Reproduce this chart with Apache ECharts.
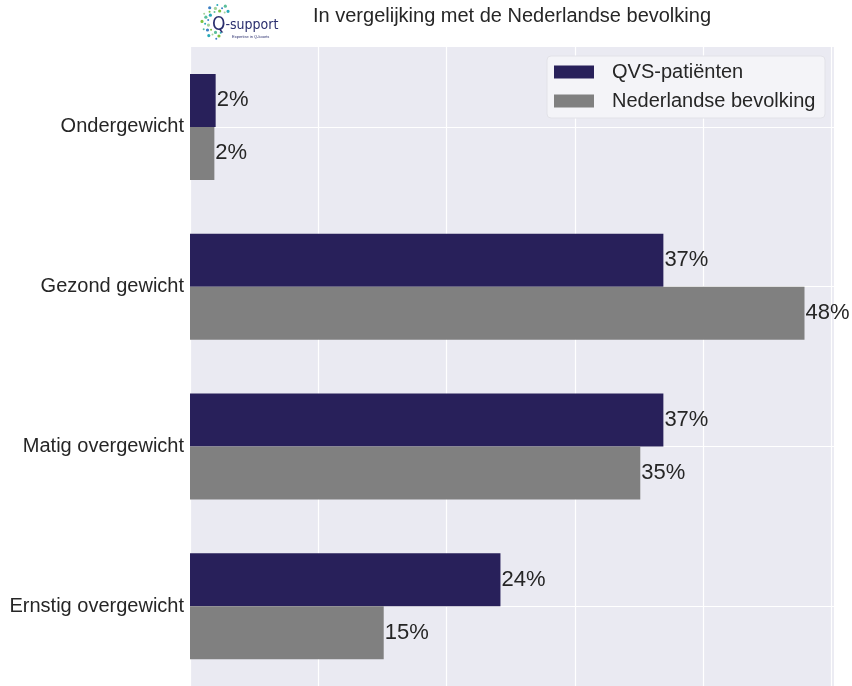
<!DOCTYPE html>
<html>
<head>
<meta charset="utf-8">
<script src="https://cdn.jsdelivr.net/npm/echarts@6/dist/echarts.min.js"></script>
<style>
  html, body { margin: 0; padding: 0; background: #fff; }
  #chart { width: 852px; height: 686px; }
</style>
</head>
<body>
<div id="chart"></div>
<script>
const categories = ['Ondergewicht', 'Gezond gewicht', 'Matig overgewicht', 'Ernstig overgewicht']
const seriesNames = ['QVS-patiënten', 'Nederlandse bevolking']
const qvsValues = [2.0, 36.9, 36.9, 24.2]
const nlValues = [1.9, 47.9, 35.1, 15.1]
const titleText = 'In vergelijking met de Nederlandse bevolking'

const font = '"Liberation Sans", Arial, sans-serif'
const ink = '#262626'

// dot ring of the logo (decoration only)
const logoDots = []
const dotColors = ['#2aa9b8', '#7cc242', '#3b7fc4', '#5bbf9a', '#a3d39c']
for (let i = 0; i < 26; i++) {
  const a = Math.PI * 0.45 + i * 0.16
  const r = 11 + (i % 3) * 3
  logoDots.push({
    type: 'circle',
    shape: { cx: 219 + Math.cos(a) * r, cy: 22 + Math.sin(a) * r, r: 1 + (i % 2) * 0.6 },
    style: { fill: dotColors[i % dotColors.length] },
    silent: true
  })
}

const chart = echarts.init(document.getElementById('chart'))

const labelStyle = {
  show: true,
  position: 'right',
  distance: 1,
  fontSize: 22,
  fontFamily: font,
  color: ink,
  formatter: p => Math.round(p.value) + '%'
}

const option = {
  animation: false,
  backgroundColor: '#ffffff',
  grid: {
    left: 190,
    right: 18,
    top: 47,
    bottom: 0,
    show: true,
    backgroundColor: '#EAEAF2',
    borderWidth: 0
  },
  legend: {
    data: seriesNames,
    orient: 'vertical',
    left: 554,
    top: 62,
    padding: 0,
    itemWidth: 40,
    itemHeight: 13,
    itemGap: 9,
    icon: 'rect',
    z: 5,
    textStyle: {
      fontSize: 20,
      lineHeight: 20,
      fontFamily: font,
      color: ink,
      padding: [0, 0, 0, 13]
    }
  },
  xAxis: {
    type: 'value',
    min: 0,
    max: 50.2,
    interval: 10,
    axisLine: { show: false },
    axisTick: { show: false },
    axisLabel: { show: false },
    splitLine: { lineStyle: { color: '#ffffff', width: 1.2 } }
  },
  yAxis: {
    type: 'category',
    data: categories,
    inverse: true,
    axisLine: { show: false },
    axisTick: { show: false },
    axisLabel: { fontSize: 20, fontFamily: font, color: ink, margin: 6 },
    splitLine: { show: false }
  },
  series: [
    {
      name: seriesNames[0],
      type: 'bar',
      data: qvsValues,
      barWidth: 53,
      barGap: '0%',
      itemStyle: { color: '#28205A' },
      label: labelStyle
    },
    {
      name: seriesNames[1],
      type: 'bar',
      data: nlValues,
      barWidth: 53,
      barGap: '0%',
      itemStyle: { color: '#808080' },
      label: labelStyle
    },
    {
      // horizontal grid lines through the category centres
      name: 'grid',
      type: 'line',
      data: [],
      silent: true,
      z: 1,
      markLine: {
        silent: true,
        z: 1,
        symbol: ['none', 'none'],
        label: { show: false },
        lineStyle: { color: '#ffffff', width: 1.2, type: 'solid' },
        data: categories.map(c => ({ yAxis: c }))
      }
    }
  ],
  graphic: [
    {
      type: 'rect',
      z: 3,
      shape: { x: 547, y: 56, width: 278, height: 62, r: 4 },
      style: { fill: '#F4F4F8', stroke: '#E2E2E8', lineWidth: 1 },
      silent: true
    },
    {
      type: 'text',
      z: 3,
      x: 512,
      y: 16,
      style: {
        text: titleText,
        fontSize: 20,
        fontFamily: font,
        fill: ink,
        align: 'center',
        verticalAlign: 'middle'
      }
    },
    ...logoDots,
    {
      type: 'text',
      x: 212,
      y: 25,
      style: {
        text: '{q|Q}{s|-support}',
        fontFamily: '"Liberation Sans Narrow", "DejaVu Sans Condensed", sans-serif',
        fill: '#2B2F6E',
        verticalAlign: 'middle',
        rich: {
          q: { fontSize: 19, fill: '#2B2F6E', fontFamily: '"DejaVu Sans Condensed", sans-serif' },
          s: { fontSize: 14, fill: '#2B2F6E', fontFamily: '"DejaVu Sans Condensed", sans-serif' }
        }
      }
    },
    {
      type: 'text',
      x: 232,
      y: 37,
      style: {
        text: 'Expertise in Q-koorts',
        fontSize: 4,
        fontFamily: font,
        fill: '#2B2F6E',
        verticalAlign: 'middle'
      }
    }
  ]
}

chart.setOption(option)
</script>
</body>
</html>
